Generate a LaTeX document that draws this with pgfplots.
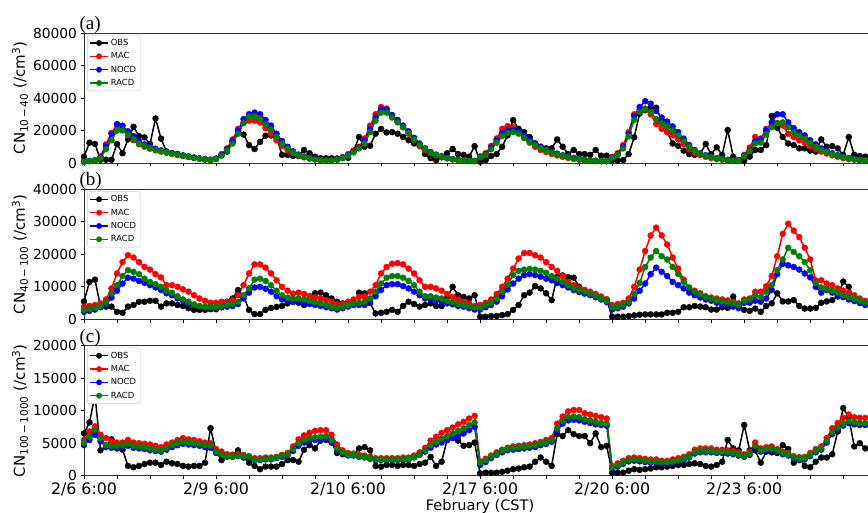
\documentclass[border=0pt]{standalone}
\usepackage{pgfplots}
\pgfplotsset{compat=1.18}
\usepackage{pgfplotstable}
\usepackage{fontspec}
\setmainfont{DejaVu Sans}
\newfontfamily\seriffont{Liberation Serif}
\definecolor{mred}{RGB}{255,0,0}
\definecolor{mblue}{RGB}{0,0,255}
\definecolor{mgreen}{RGB}{0,128,0}

\pgfplotstableread{
obs mac nocd racd
3900 900 800 700
12500 1300 1200 1100
11700 1700 1600 1400
2000 3900 3500 3000
2000 11500 10500 8500
2000 18500 18000 14000
11700 21500 24000 20000
6000 20500 23000 20000
14500 17000 19500 17500
22300 14000 16500 14500
16500 11500 13500 12000
15800 10000 11500 10500
11700 8800 10000 9200
27400 7800 8800 8000
15000 7000 7800 7200
7000 6300 7000 6500
6000 5600 6200 5800
5500 4900 5400 5000
4500 4300 4700 4400
4000 3700 4000 3800
3200 3100 3400 3200
2800 2600 2800 2700
2200 2100 2300 2200
2000 1900 2000 1900
2500 2700 2500 2400
5000 5500 5000 4500
7000 9000 8500 7500
13000 14500 13500 12000
20000 21000 20000 18000
17500 25000 27000 24500
11000 26000 30000 28500
8600 26000 31000 28500
13000 25000 30000 27500
16800 21500 26500 24000
17000 18000 23000 20500
15500 14000 18000 16000
5000 10500 13500 12000
5000 8000 10000 9000
4300 6000 7200 6500
4300 4500 5200 4800
8000 3500 4000 3700
6000 2700 3000 2800
3900 2200 2400 2200
3000 1800 2000 1900
2900 1600 1800 1700
2900 1600 1700 1600
2800 2200 2200 2000
3000 3500 3500 3200
3200 5500 5000 4600
7600 7500 7000 6500
16000 10000 9500 9000
10000 15000 14000 12000
10600 23000 21000 19000
18000 30000 28000 26000
21000 34500 33000 31000
18800 33500 33000 31000
19000 29000 29500 28000
18000 25500 26500 25000
16000 22000 23000 22000
14000 18000 19500 18500
12000 14000 15500 14500
11000 10500 12000 11000
5500 8000 9000 8500
3000 6000 6800 6300
1800 4600 5200 4900
3500 3600 4200 3900
6000 2800 3200 3000
8600 2200 2500 2300
5500 1700 2000 1800
5000 1400 1600 1500
3900 1200 1400 1300
10400 1200 1300 1200
800 4000 3800 3500
1800 6000 5500 5000
4300 10500 9500 8500
5500 15000 14000 12500
10000 21000 18500 16500
17000 22700 20000 18500
26400 22000 20500 19000
21000 19000 19500 18000
19000 15500 17000 15500
16000 12500 14500 13000
12000 10000 12000 11000
10000 8000 10000 9200
9000 6800 8500 7800
9000 5600 7000 6400
14500 4600 5800 5300
10000 3800 4800 4400
5500 3100 4000 3600
8000 2500 3200 2900
5500 2000 2500 2300
5500 1600 2000 1800
5000 1300 1600 1500
8000 1100 1400 1300
4500 1000 1300 1200
4500 1000 1300 1200
1800 3800 3500 3200
1500 6000 5500 5000
1800 11000 10000 9000
5500 19000 18000 16500
15800 30000 29000 26500
30500 33000 34500 31500
32500 33500 38000 33000
34000 30000 36500 31500
34000 24000 32000 27000
26000 21000 28000 24500
19000 19000 25500 22500
12000 17000 22500 20000
10600 14500 19000 17000
7600 11500 15000 13500
5500 8500 11000 10000
5000 6300 8000 7500
5500 4800 6000 5700
11700 3800 4800 4500
5500 3000 3800 3600
9600 2400 3000 2900
5000 2000 2500 2400
20300 1600 2000 1900
3900 1300 1600 1500
1800 1200 1500 1400
1400 5000 4500 4200
3900 9500 8000 7500
8000 16000 13500 12000
8000 15000 14500 12500
11000 21000 20000 17500
29000 23500 25000 22000
21700 24500 30000 24500
16000 23000 30000 25000
12000 18000 25000 22000
11000 16000 21500 19000
9000 14000 19000 17000
9000 12500 17000 15000
7600 10500 14000 12500
7000 8500 11500 10000
14500 7000 9000 8200
10000 5800 7500 6800
10400 4700 6000 5400
9000 3800 4800 4400
5000 3000 3800 3500
16000 2400 3000 2800
5000 2000 2500 2300
4300 1700 2000 1900
3900 1400 1700 1600
}\dataA

\pgfplotstableread{
obs mac nocd racd
5500 3900 2300 2900
11500 4100 2600 3100
12200 4400 3000 3500
3900 4900 3700 4100
3900 6100 4400 5100
3900 9500 6700 8000
2300 14100 8800 10500
2000 17600 11000 13300
3900 19700 12800 15100
4400 19000 12500 14600
5400 17600 11800 13900
5400 16100 11200 12500
5700 15300 10500 11500
5700 13900 9800 10800
3900 12900 9000 10000
4900 10500 8000 8800
4900 10500 7400 8200
4400 10000 6400 7100
4100 9200 5700 6100
3400 8500 4900 5400
2900 7400 4400 4600
2900 6400 3900 4100
2900 5700 3700 3900
3100 5100 3500 3900
3100 5100 3500 3900
3900 5400 3700 4100
5400 5400 3900 4400
6400 5900 4100 4700
9000 7400 4700 5400
7100 10500 6400 7400
2900 14100 8200 9500
1600 16900 9800 12200
1600 16900 10000 12500
2900 15900 9400 11800
3500 14100 8500 10500
3800 12000 7100 8800
4100 10000 6100 7400
4900 8800 5700 6700
5400 7900 5400 6400
5100 8200 5400 6400
4400 7800 5100 6100
6400 7200 4700 5700
8000 6800 4400 5300
8200 6400 4100 4900
7400 5900 3700 4400
6400 5400 3400 3900
5400 4700 3000 3600
4900 4700 3400 3900
5100 5400 3900 4400
5100 6100 4400 4900
8200 6900 4400 5100
8000 7100 4400 5400
5000 8500 5400 6400
1800 10500 7100 8500
2000 14100 9000 11000
2300 16100 10500 12800
2900 17100 10800 13300
2300 17300 10800 13300
4100 16900 10200 12800
5400 15600 9500 11800
4700 14100 8500 10500
3900 12000 7400 8500
4400 10000 6400 7100
4900 10000 6400 7100
4100 9500 5900 6700
4100 8800 5400 6400
6500 7800 4900 5700
10000 6900 4600 5300
7400 6100 4100 4700
6900 5400 3900 4400
6400 4900 3400 4100
7400 4100 3000 3700
800 4400 3000 3700
800 5100 3700 4400
1000 6100 4400 5100
1000 7800 5400 6400
1300 10000 7100 8500
1600 12500 9200 10500
2900 15600 11000 13600
4400 18700 12500 14900
7400 20400 13600 15300
8200 20400 13900 15500
10200 19700 13600 15300
9500 19000 13100 14900
8000 17600 12500 14300
5900 16100 12000 13300
13000 14900 11200 12500
13500 13300 10500 11500
13000 11500 9800 10500
12800 10500 9000 9700
10000 9700 8400 9100
9000 9000 7900 8500
8000 8500 7400 7900
7500 7800 6800 7300
6800 7000 6100 6500
6000 6200 5300 5700
800 4400 3000 3700
800 4700 3400 4000
800 5100 3900 4400
1000 6400 4900 5400
1200 10000 6400 7800
1400 15300 8800 11200
1500 21000 11000 16100
1500 25800 13900 19000
1500 28200 15900 21000
1500 25800 14600 19400
2000 23000 13300 18400
2000 19000 11500 16100
2300 15600 10500 13900
3700 12200 9500 11500
3700 9500 8200 9800
4100 8800 7400 8500
3900 8000 6700 7800
3700 7100 6100 6900
3000 6700 5700 6400
3000 6400 5100 5900
3700 6100 4700 5500
3500 5800 4400 5200
7000 5400 3900 4900
4000 4900 3400 4400
2900 6100 5100 5700
2600 6400 5100 6100
3300 8500 5700 7400
2300 8500 5400 6800
4100 10200 6400 8500
4900 13300 9000 10500
8000 19400 13900 15100
5500 26300 17100 18400
5500 29400 16600 22000
5900 27300 16100 20700
4100 25300 15300 19400
3300 22000 14100 17600
3300 18400 12900 15100
3500 12000 10000 11200
5100 12000 8200 9800
5500 11000 9000 9500
5900 10500 8200 8800
7000 9500 7400 8200
11600 8800 6800 7400
10000 8200 6100 6800
6000 7400 5600 6400
5500 6400 5000 5700
5000 5700 4400 5100
}\dataB

\pgfplotstableread{
obs mac nocd racd
6500 5500 4700 5100
8200 6800 5500 6000
12400 7600 6300 7100
3900 6300 5300 5800
4600 5800 4400 4700
5600 5300 4300 4600
4200 5100 4300 4600
4000 5100 4400 4700
1500 5500 4600 4900
1300 5100 4300 4600
1500 5000 4200 4500
1800 4900 4100 4400
2000 4800 3900 4200
2000 4600 3800 4000
1650 4400 3700 3900
2150 4800 4000 4300
1900 5100 4400 4700
1800 5500 4700 5000
1500 5800 4900 5200
1400 5600 4800 5100
1500 5500 4700 5000
1500 5300 4600 4900
2000 5100 4400 4700
7300 5000 4300 4600
3700 4100 3500 3700
2400 3700 3200 3300
3000 3300 2900 3000
3200 3200 2900 3000
3900 3300 3000 3100
2800 3200 2900 3000
2000 3000 2800 2900
1500 2700 2400 2500
1000 2700 2400 2500
1400 2800 2500 2600
1400 2800 2500 2600
1400 2900 2700 2800
1800 3200 2900 3100
2400 3500 3100 3300
2400 4500 3800 4100
2150 5600 4600 5000
4000 6200 5100 5500
4700 6600 5400 5800
4200 6900 5500 5900
5400 7000 5600 6000
5500 7000 5700 6100
5100 6300 5200 5500
3500 4800 4000 4200
3300 3900 3400 3600
3200 3500 3100 3200
3200 3400 3100 3200
4200 3200 2900 3000
4400 3100 2800 2900
3900 2900 2600 2700
1500 2700 2400 2500
1400 2700 2400 2500
1650 2700 2400 2500
1650 2700 2400 2500
1500 2700 2400 2500
1650 2800 2500 2600
1650 2800 2500 2600
1500 3100 2800 2900
1800 3600 3200 3300
2000 4300 3700 3900
2900 5400 4300 4700
1500 6000 4800 5200
2150 6600 5100 5700
5500 7000 5500 6100
5800 7400 5800 6500
5400 7900 6100 6900
4600 8300 6500 7300
4700 8800 7000 7800
5100 9200 7500 8200
360 2200 1650 2000
460 2600 2100 2400
460 3100 2700 3000
460 3600 3200 3400
600 4000 3600 3900
770 4300 3900 4200
1000 4500 4000 4300
1100 4600 4100 4400
1300 4700 4200 4500
1400 4800 4300 4600
2150 5000 4400 4700
2800 5200 4700 5000
2150 5500 4900 5200
1500 5800 5200 5500
6400 8000 6900 7300
6100 9100 8000 8400
7000 9900 8500 9000
6400 10100 8600 9100
6100 10100 8500 9000
6100 9600 8300 8700
5000 9400 8100 8500
6500 9200 7900 8300
4400 9000 7800 8100
4600 8800 7700 8000
460 1500 1100 1300
460 1900 1400 1600
460 2300 1800 2000
770 2700 2200 2400
1000 2800 2300 2500
900 2700 2200 2400
1000 2600 2100 2300
1100 2500 2000 2200
1300 2500 2000 2200
1300 2300 1900 2100
1400 2300 1900 2100
1500 2500 2000 2200
1650 2700 2200 2400
1650 2900 2400 2600
1800 3300 2800 3000
1900 4000 3400 3600
1800 4200 3600 3800
1500 4200 3600 3800
1400 4200 3600 3800
1650 4000 3500 3700
2150 4000 3500 3700
5500 3900 3400 3600
4200 3800 3300 3500
3900 3600 3100 3300
7800 3300 2900 3100
3900 3700 3200 3400
3900 5100 4300 4600
2000 4200 3700 3900
3700 4400 3900 4100
3600 4500 4000 4200
3500 4100 3700 3900
4700 3700 3300 3500
4100 3500 3100 3300
2000 3000 2600 2800
2800 2800 2400 2600
1500 2900 2500 2700
1300 3500 3000 3200
2150 4100 3600 3800
2800 4500 4000 4200
2800 5800 5100 5400
3300 7300 6400 6700
6800 8100 7100 7400
10400 8900 7700 8000
9000 9400 8100 8400
4500 9000 7900 8200
5000 8900 7800 8100
4200 8900 7800 8100
}\dataC

\pgfplotsset{
  panel/.style={
    scale only axis, width=784.55pt, height=130pt,
    xmin=0, xmax=142.6, ymin=0,
    clip=false,
    xtick={0,6,...,138},
    tick align=outside, xtick pos=bottom, ytick pos=left,
    major tick length=3.5pt,
    every tick/.style={black, line width=0.8pt},
    axis line style={line width=0.8pt, black!80},
    /pgf/number format/assume math mode=true,
    /pgf/number format/1000 sep={},
    scaled y ticks=false,
    yticklabel style={font=\fontsize{13.8}{16}\selectfont},
    xticklabel style={font=\fontsize{15.8}{18}\selectfont},
    ylabel style={font=\fontsize{15}{18}\selectfont, at={(axis description cs:-0.0816,0.5)}, anchor=center},
    legend style={at={(axis description cs:0.004,0.985)}, anchor=north west,
      draw=black!20, rounded corners=2pt, fill=white,
      font=\fontsize{8.4}{10}\selectfont, inner sep=2pt, row sep=1.6pt,
      nodes={inner sep=2pt}},
    legend cell align=left,
    legend image code/.code={\draw[mark repeat=2,mark phase=2,mark size=2.7pt] plot coordinates {(0pt,0pt) (9pt,0pt) (18pt,0pt)};},
    every axis plot/.append style={line width=1.5pt, mark=*, mark size=3pt, mark options={line width=0.4pt}},
  },
}

\begin{document}
\begin{tikzpicture}[x=1pt,y=1pt]
\begin{axis}[panel, at={(84pt,349pt)}, anchor=south west,
  ymax=80000, ytick={0,20000,...,80000}, xticklabels={},
  ylabel={CN\textsubscript{10\,−\,40} (/cm\textsuperscript{3})}]
\addplot[black] table[x expr=\coordindex, y=obs]{\dataA};
\addplot[mred] table[x expr=\coordindex, y=mac]{\dataA};
\addplot[mblue] table[x expr=\coordindex, y=nocd]{\dataA};
\addplot[mgreen] table[x expr=\coordindex, y=racd]{\dataA};
\legend{OBS,MAC,NOCD,RACD}
\end{axis}
\begin{axis}[panel, at={(84pt,192.7pt)}, anchor=south west,
  ymax=40000, ytick={0,10000,...,40000}, xticklabels={},
  ylabel={CN\textsubscript{40\,−\,100} (/cm\textsuperscript{3})}]
\addplot[black] table[x expr=\coordindex, y=obs]{\dataB};
\addplot[mred] table[x expr=\coordindex, y=mac]{\dataB};
\addplot[mblue] table[x expr=\coordindex, y=nocd]{\dataB};
\addplot[mgreen] table[x expr=\coordindex, y=racd]{\dataB};
\legend{OBS,MAC,NOCD,RACD}
\end{axis}
\begin{axis}[panel, at={(84pt,36.3pt)}, anchor=south west,
  ymax=20000, ytick={0,5000,...,20000},
  xticklabels={2/6 6:00,,,,2/9 6:00,,,,2/10 6:00,,,,2/17 6:00,,,,2/20 6:00,,,,2/23 6:00,,,},
  ylabel={CN\textsubscript{100\,−\,1000} (/cm\textsuperscript{3})}]
\addplot[black] table[x expr=\coordindex, y=obs]{\dataC};
\addplot[mred] table[x expr=\coordindex, y=mac]{\dataC};
\addplot[mblue] table[x expr=\coordindex, y=nocd]{\dataC};
\addplot[mgreen] table[x expr=\coordindex, y=racd]{\dataC};
\legend{OBS,MAC,NOCD,RACD}
\end{axis}
\node[font=\seriffont\fontsize{19}{22}\selectfont, anchor=base west] at (76pt,482.5pt) {(a)};
\node[font=\seriffont\fontsize{19}{22}\selectfont, anchor=base west] at (76pt,326.2pt) {(b)};
\node[font=\seriffont\fontsize{19}{22}\selectfont, anchor=base west] at (76pt,169.8pt) {(c)};
\node[font=\fontsize{14.5}{17}\selectfont] at (480pt,6pt) {February (CST)};
\pgfresetboundingbox
\useasboundingbox (0pt,0pt) rectangle (868pt,512pt);
\end{tikzpicture}
\end{document}
